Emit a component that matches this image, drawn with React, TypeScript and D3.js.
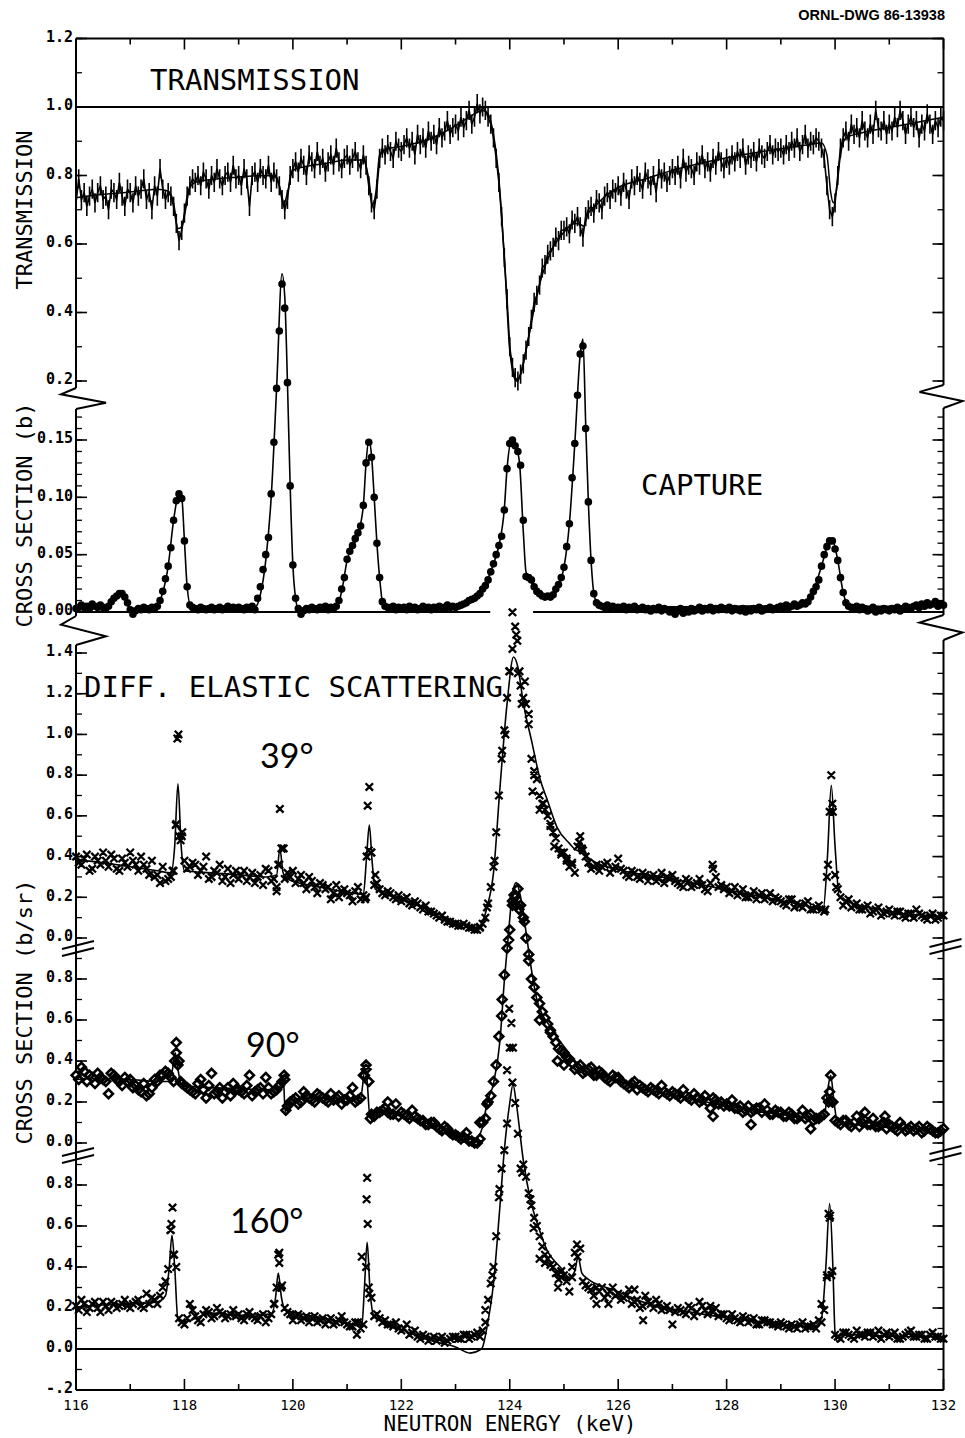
import React from "react";
import * as d3 from "d3";

type Pt = [number, number];

// ---------------------------------------------------------------------------
// Energy axis (keV)
// ---------------------------------------------------------------------------
const E_MIN = 116;
const E_MAX = 132;
const xTickValues = [116, 118, 120, 122, 124, 126, 128, 130, 132];

// ---------------------------------------------------------------------------
// Transmission: measured points every 0.05 keV from 116 keV, plus the fit
// ---------------------------------------------------------------------------
const TRANS_STEP = 0.05;
const TRANS_ERR = 0.028;
const transmission = [
  0.72, 0.79, 0.73, 0.75, 0.71, 0.74, 0.76, 0.72, 0.75, 0.77, 0.73, 0.74, 0.70, 0.76, 0.75, 0.73, 0.78, 0.74, 0.71, 0.76,
  0.75, 0.72, 0.77, 0.74, 0.76, 0.79, 0.73, 0.75, 0.70, 0.77, 0.74, 0.82, 0.76, 0.73, 0.75, 0.74, 0.71, 0.66, 0.61, 0.64,
  0.69, 0.74, 0.77, 0.79, 0.78, 0.80, 0.77, 0.81, 0.79, 0.76, 0.80, 0.78, 0.82, 0.79, 0.77, 0.80, 0.81, 0.78, 0.83, 0.79,
  0.80, 0.77, 0.82, 0.79, 0.71, 0.80, 0.81, 0.78, 0.82, 0.80, 0.79, 0.83, 0.78, 0.81, 0.79, 0.77, 0.73, 0.70, 0.73, 0.80,
  0.82, 0.84, 0.81, 0.85, 0.83, 0.80, 0.86, 0.84, 0.82, 0.87, 0.83, 0.85, 0.81, 0.84, 0.86, 0.83, 0.88, 0.84, 0.82, 0.85,
  0.86, 0.83, 0.85, 0.87, 0.84, 0.82, 0.86, 0.83, 0.77, 0.72, 0.70, 0.76, 0.85, 0.88, 0.86, 0.89, 0.87, 0.85, 0.90, 0.88,
  0.87, 0.89, 0.91, 0.88, 0.90, 0.86, 0.92, 0.89, 0.91, 0.88, 0.93, 0.90, 0.92, 0.89, 0.94, 0.91, 0.93, 0.96, 0.92, 0.94,
  0.95, 0.93, 0.97, 0.94, 0.96, 0.99, 0.95, 0.97, 1.01, 0.98, 1.00, 0.99, 0.97, 0.95, 0.91, 0.85, 0.78, 0.68, 0.56, 0.44,
  0.30, 0.24, 0.21, 0.20, 0.22, 0.25, 0.29, 0.33, 0.38, 0.43, 0.45, 0.48, 0.53, 0.54, 0.57, 0.58, 0.59, 0.62, 0.61, 0.64,
  0.64, 0.65, 0.63, 0.67, 0.66, 0.68, 0.65, 0.62, 0.68, 0.70, 0.71, 0.69, 0.73, 0.72, 0.70, 0.74, 0.75, 0.73, 0.76, 0.75,
  0.77, 0.74, 0.78, 0.76, 0.73, 0.79, 0.77, 0.80, 0.78, 0.76, 0.81, 0.79, 0.77, 0.80, 0.75, 0.82, 0.79, 0.81, 0.78, 0.80,
  0.82, 0.80, 0.83, 0.79, 0.85, 0.81, 0.83, 0.82, 0.80, 0.84, 0.83, 0.86, 0.82, 0.84, 0.81, 0.85, 0.83, 0.87, 0.84, 0.82,
  0.85, 0.83, 0.86, 0.84, 0.87, 0.85, 0.88, 0.83, 0.86, 0.85, 0.87, 0.84, 0.88, 0.86, 0.85, 0.87, 0.89, 0.86, 0.88, 0.87,
  0.88, 0.86, 0.89, 0.87, 0.90, 0.88, 0.91, 0.87, 0.89, 0.92, 0.88, 0.90, 0.89, 0.91, 0.90, 0.88, 0.85, 0.77, 0.70, 0.68,
  0.72, 0.80, 0.88, 0.91, 0.93, 0.90, 0.95, 0.92, 0.94, 0.91, 0.96, 0.93, 0.91, 0.95, 0.92, 0.99, 0.94, 0.93, 0.96, 0.92,
  0.95, 0.93, 0.97, 0.94, 0.99, 0.96, 0.92, 0.95, 0.97, 0.94, 0.96, 0.91, 0.95, 0.93, 0.98, 0.95, 0.92, 0.96, 0.94, 0.97,
  0.96,
];
const transmissionFit: Pt[] = [
  [116.0, 0.735], [116.5, 0.745], [117.0, 0.752], [117.5, 0.76], [117.7, 0.755], [117.8, 0.72],
  [117.88, 0.645], [117.95, 0.65], [118.02, 0.7], [118.1, 0.765], [118.2, 0.78], [118.6, 0.79],
  [119.0, 0.795], [119.5, 0.8], [119.7, 0.795], [119.78, 0.75], [119.84, 0.72], [119.9, 0.75],
  [120.0, 0.815], [120.2, 0.825], [120.6, 0.835], [121.0, 0.845], [121.3, 0.845], [121.4, 0.79],
  [121.47, 0.715], [121.53, 0.75], [121.6, 0.86], [121.7, 0.875], [122.0, 0.885], [122.5, 0.905],
  [123.0, 0.945], [123.3, 0.975], [123.5, 0.99], [123.6, 0.98], [123.7, 0.92], [123.8, 0.79],
  [123.9, 0.56], [124.0, 0.29], [124.05, 0.23], [124.12, 0.2], [124.2, 0.22], [124.3, 0.29],
  [124.4, 0.37], [124.5, 0.45], [124.6, 0.51], [124.8, 0.59], [125.0, 0.635], [125.2, 0.66],
  [125.3, 0.658], [125.36, 0.652], [125.45, 0.69], [125.6, 0.715], [125.8, 0.745], [126.0, 0.765],
  [126.5, 0.79], [127.0, 0.815], [127.5, 0.835], [128.0, 0.852], [128.5, 0.866], [129.0, 0.878],
  [129.5, 0.89], [129.75, 0.895], [129.85, 0.86], [129.92, 0.75], [129.97, 0.72], [130.02, 0.75],
  [130.1, 0.86], [130.2, 0.91], [130.5, 0.925], [131.0, 0.94], [131.5, 0.955], [132.0, 0.97],
];
const transTickValues = [0.2, 0.4, 0.6, 0.8, 1.0, 1.2];
const transTickLabels = ["0.2", "0.4", "0.6", "0.8", "1.0", "1.2"];

// ---------------------------------------------------------------------------
// Capture cross section (b): points every 0.05 keV from 116 keV, plus the fit
// ---------------------------------------------------------------------------
const CAPTURE_STEP = 0.05;
const capture = [
  0.003, 0.004, 0.006, 0.004, 0.005, 0.003, 0.007, 0.005, 0.004, 0.006, 0.004, 0.003, 0.005, 0.009, 0.012, 0.014, 0.016, 0.016, 0.013, 0.008,
  0.002, -0.002, 0.001, 0.003, 0.002, 0.004, 0.003, 0.002, 0.004, 0.003, 0.005, 0.010, 0.018, 0.029, 0.040, 0.056, 0.080, 0.097, 0.103, 0.099,
  0.062, 0.022, 0.006, 0.004, 0.003, 0.002, 0.004, 0.003, 0.002, 0.003, 0.004, 0.002, 0.003, 0.004, 0.002, 0.003, 0.005, 0.003, 0.004, 0.003,
  0.004, 0.003, 0.002, 0.004, 0.003, 0.005, 0.002, 0.012, 0.022, 0.037, 0.050, 0.065, 0.103, 0.148, 0.195, 0.245, 0.286, 0.265, 0.200, 0.110,
  0.041, 0.012, 0.003, -0.002, 0.001, 0.003, 0.002, 0.004, 0.003, 0.002, 0.004, 0.003, 0.005, 0.002, 0.004, 0.003, 0.005, 0.010, 0.020, 0.030,
  0.046, 0.053, 0.058, 0.064, 0.069, 0.075, 0.093, 0.130, 0.148, 0.135, 0.100, 0.060, 0.030, 0.009, 0.005, 0.004, 0.003, 0.005, 0.002, 0.004,
  0.003, 0.004, 0.002, 0.005, 0.003, 0.004, 0.002, 0.003, 0.005, 0.003, 0.004, 0.002, 0.004, 0.003, 0.005, 0.004, 0.003, 0.006, 0.004, 0.005,
  0.004, 0.005, 0.006, 0.007, 0.008, 0.010, 0.011, 0.012, 0.014, 0.016, 0.020, 0.023, 0.028, 0.035, 0.042, 0.050, 0.058, 0.066, 0.089, 0.125,
  0.147, 0.150, 0.145, 0.140, 0.128, 0.080, 0.031, 0.030, 0.028, 0.022, 0.018, 0.016, 0.014, 0.013, 0.014, 0.013, 0.015, 0.020, 0.024, 0.030,
  0.039, 0.057, 0.077, 0.117, 0.147, 0.189, 0.225, 0.232, 0.160, 0.096, 0.045, 0.016, 0.008, 0.006, 0.005, 0.004, 0.006, 0.003, 0.005, 0.004,
  0.004, 0.003, 0.005, 0.002, 0.004, 0.003, 0.005, 0.002, 0.003, 0.004, 0.002, 0.003, 0.001, 0.003, 0.002, 0.004, 0.001, 0.003, 0.002, 0.000,
  0.002, -0.002, 0.001, 0.003, -0.001, 0.002, 0.000, 0.003, 0.001, 0.002, 0.004, 0.001, 0.003, 0.002, 0.004, 0.001, 0.003, 0.002, 0.004, 0.003,
  0.002, 0.004, 0.001, 0.003, 0.002, 0.001, 0.003, 0.000, 0.002, 0.001, 0.003, 0.002, 0.004, 0.001, 0.002, 0.003, 0.004, 0.002, 0.003, 0.004,
  0.005, 0.003, 0.006, 0.004, 0.005, 0.007, 0.005, 0.006, 0.008, 0.007, 0.009, 0.013, 0.018, 0.022, 0.028, 0.040, 0.050, 0.057, 0.062, 0.062,
  0.055, 0.045, 0.030, 0.017, 0.008, 0.005, 0.004, 0.003, 0.005, 0.002, 0.004, 0.003, 0.001, 0.002, 0.004, 0.000, 0.002, 0.001, 0.003, 0.002,
  0.001, 0.003, 0.002, 0.004, 0.001, 0.003, 0.005, 0.004, 0.003, 0.005, 0.006, 0.004, 0.007, 0.005, 0.008, 0.006, 0.007, 0.009, 0.005, 0.007,
  0.006,
];
const captureFit: Pt[] = [
  [116.0, 0.003], [116.6, 0.004], [116.7, 0.011], [116.8, 0.015], [116.9, 0.012], [117.0, 0.003],
  [117.4, 0.003], [117.5, 0.006], [117.6, 0.017], [117.7, 0.04], [117.8, 0.08], [117.9, 0.103],
  [117.95, 0.1], [118.0, 0.062], [118.05, 0.022], [118.12, 0.005], [119.3, 0.004], [119.4, 0.015],
  [119.5, 0.045], [119.6, 0.1], [119.7, 0.195], [119.8, 0.295], [119.85, 0.275], [119.9, 0.2],
  [119.95, 0.11], [120.0, 0.041], [120.05, 0.012], [120.1, 0.003], [120.8, 0.004], [120.9, 0.018],
  [121.0, 0.045], [121.2, 0.068], [121.3, 0.093], [121.35, 0.13], [121.4, 0.15], [121.45, 0.137],
  [121.5, 0.1], [121.55, 0.06], [121.6, 0.03], [121.66, 0.007], [121.75, 0.003], [123.0, 0.004],
  [123.3, 0.011], [123.5, 0.02], [123.7, 0.042], [123.8, 0.058], [123.9, 0.09], [123.95, 0.125],
  [124.05, 0.152], [124.1, 0.147], [124.18, 0.13], [124.25, 0.07], [124.3, 0.035], [124.4, 0.026],
  [124.6, 0.014], [124.75, 0.013], [124.9, 0.022], [125.0, 0.039], [125.1, 0.077], [125.2, 0.147],
  [125.3, 0.225], [125.35, 0.238], [125.4, 0.165], [125.45, 0.096], [125.5, 0.045], [125.57, 0.012],
  [125.7, 0.004], [129.4, 0.006], [129.6, 0.018], [129.75, 0.04], [129.9, 0.062], [129.95, 0.063],
  [130.05, 0.045], [130.15, 0.017], [130.25, 0.005], [132.0, 0.005],
];
const captureTickValues = [0, 0.05, 0.1, 0.15];
const captureTickLabels = ["0.00", "0.05", "0.10", "0.15"];

// ---------------------------------------------------------------------------
// Differential elastic scattering (b/sr). Two interleaved runs per angle:
// run A every 0.1 keV from 116.00 keV, run B every 0.1 keV from 116.05 keV,
// extra points measured across the narrow resonances, and the fits.
// ---------------------------------------------------------------------------
const SCATTER_STEP = 0.1;
const RUN_B_OFFSET = 0.05;

const scatter39 = [
  0.40, 0.36, 0.41, 0.34, 0.38, 0.42, 0.35, 0.39, 0.33, 0.37,
  0.42, 0.36, 0.40, 0.34, 0.38, 0.31, 0.35, 0.29, 0.33, 0.50,
  0.38, 0.35, 0.36, 0.33, 0.40, 0.30, 0.32, 0.28, 0.34, 0.31,
  0.29, 0.33, 0.30, 0.27, 0.31, 0.34, 0.28, 0.25, 0.44, 0.32,
  0.33, 0.29, 0.27, 0.30, 0.25, 0.27, 0.24, 0.19, 0.26, 0.23,
  0.22, 0.18, 0.25, 0.21, 0.43, 0.26, 0.24, 0.21, 0.22, 0.19,
  0.18, 0.20, 0.16, 0.17, 0.14, 0.13, 0.12, 0.10, 0.09, 0.08,
  0.07, 0.06, 0.06, 0.05, 0.04, 0.07, 0.17, 0.35, 0.70, 1.02,
  1.31, 1.53, 1.24, 1.15, 0.88, 0.78, 0.66, 0.60, 0.52, 0.44,
  0.42, 0.35, 0.32, 0.50, 0.40, 0.34, 0.36, 0.35, 0.37, 0.34,
  0.39, 0.33, 0.30, 0.32, 0.29, 0.31, 0.30, 0.28, 0.32, 0.30,
  0.31, 0.27, 0.25, 0.28, 0.26, 0.29, 0.24, 0.27, 0.30, 0.26,
  0.25, 0.23, 0.21, 0.24, 0.20, 0.23, 0.21, 0.19, 0.22, 0.20,
  0.18, 0.16, 0.19, 0.17, 0.15, 0.18, 0.14, 0.16, 0.13, 0.62,
  0.31, 0.20, 0.18, 0.15, 0.17, 0.14, 0.16, 0.13, 0.15, 0.12,
  0.14, 0.11, 0.13, 0.10, 0.12, 0.14, 0.11, 0.09, 0.12, 0.10,
  0.11,
];
const scatter39RunB = [
  0.37, 0.39, 0.33, 0.40, 0.36, 0.38, 0.41, 0.34, 0.39, 0.35,
  0.38, 0.33, 0.36, 0.31, 0.30, 0.27, 0.28, 0.30, 0.56, 0.50,
  0.34, 0.37, 0.31, 0.35, 0.29, 0.33, 0.36, 0.30, 0.27, 0.33,
  0.31, 0.28, 0.32, 0.30, 0.26, 0.33, 0.29, 0.36, 0.29, 0.30,
  0.27, 0.31, 0.24, 0.28, 0.22, 0.26, 0.25, 0.22, 0.20, 0.24,
  0.21, 0.23, 0.19, 0.20, 0.42, 0.27, 0.22, 0.23, 0.20, 0.21,
  0.19, 0.17, 0.18, 0.15, 0.16, 0.13, 0.11, 0.11, 0.08, 0.07,
  0.06, 0.07, 0.05, 0.04, 0.05, 0.10, 0.25, 0.52, 0.88, 1.18,
  1.42, 1.30, 1.18, 1.05, 0.82, 0.70, 0.63, 0.56, 0.49, 0.42,
  0.39, 0.37, 0.45, 0.43, 0.37, 0.35, 0.33, 0.36, 0.32, 0.35,
  0.34, 0.31, 0.33, 0.30, 0.32, 0.28, 0.31, 0.29, 0.27, 0.29,
  0.28, 0.26, 0.29, 0.25, 0.27, 0.26, 0.23, 0.34, 0.25, 0.24,
  0.22, 0.25, 0.22, 0.20, 0.21, 0.19, 0.22, 0.20, 0.18, 0.19,
  0.17, 0.19, 0.15, 0.16, 0.17, 0.14, 0.15, 0.14, 0.30, 0.66,
  0.24, 0.16, 0.19, 0.16, 0.14, 0.15, 0.12, 0.14, 0.11, 0.13,
  0.12, 0.13, 0.11, 0.12, 0.10, 0.12, 0.10, 0.11, 0.09, 0.11,
];
const scatter39Resonances: Pt[] = [
  [117.78, 0.33], [117.84, 0.555], [117.87, 0.98], [117.89, 1.0], [117.93, 0.48], [117.96, 0.52],
  [119.7, 0.23], [119.73, 0.36], [119.76, 0.634], [119.79, 0.44], [119.83, 0.44],
  [121.33, 0.19], [121.36, 0.4], [121.38, 0.65], [121.41, 0.742], [121.44, 0.42], [121.52, 0.31],
  [123.45, 0.055], [123.58, 0.15], [123.72, 0.38], [123.86, 0.92], [123.92, 1.0], [123.99, 1.31],
  [124.05, 1.6], [124.12, 1.49], [124.14, 1.46], [124.18, 1.31], [124.28, 1.26], [124.22, 1.15],
  [124.35, 1.1], [124.45, 0.8], [124.42, 0.72], [124.55, 0.63], [124.62, 0.66], [124.75, 0.55],
  [124.82, 0.45], [124.95, 0.41], [125.05, 0.38], [125.15, 0.36], [125.28, 0.47], [125.33, 0.44],
  [127.74, 0.36], [129.82, 0.14], [129.87, 0.36], [129.93, 0.8], [129.96, 0.62], [130.02, 0.25],
];
const scatter39Fit: Pt[] = [
  [116.0, 0.385], [116.5, 0.37], [117.0, 0.35], [117.5, 0.33], [117.75, 0.32], [117.82, 0.45],
  [117.88, 0.757], [117.94, 0.45], [118.0, 0.33], [118.5, 0.32], [119.0, 0.31], [119.5, 0.3],
  [119.7, 0.31], [119.76, 0.44], [119.82, 0.32], [119.9, 0.29], [120.5, 0.25], [121.0, 0.225],
  [121.3, 0.215], [121.36, 0.4], [121.41, 0.555], [121.46, 0.38], [121.52, 0.24], [122.0, 0.19],
  [122.5, 0.14], [123.0, 0.08], [123.2, 0.06], [123.35, 0.05], [123.45, 0.06], [123.58, 0.15],
  [123.7, 0.32], [123.82, 0.74], [123.95, 1.15], [124.07, 1.38], [124.15, 1.33], [124.25, 1.155],
  [124.41, 0.96], [124.56, 0.78], [124.69, 0.68], [124.87, 0.545], [125.1, 0.465], [125.25, 0.43],
  [125.32, 0.47], [125.4, 0.41], [125.5, 0.385], [126.0, 0.335], [126.8, 0.3], [127.75, 0.25],
  [128.7, 0.2], [129.6, 0.15], [129.78, 0.138], [129.86, 0.4], [129.93, 0.75], [130.0, 0.45],
  [130.08, 0.2], [130.8, 0.14], [132.0, 0.105],
];
const scatter39TickValues = [0, 0.2, 0.4, 0.6, 0.8, 1.0, 1.2, 1.4];
const scatter39TickLabels = ["0.0", "0.2", "0.4", "0.6", "0.8", "1.0", "1.2", "1.4"];

const scatter90 = [
  0.33, 0.37, 0.30, 0.32, 0.34, 0.31, 0.24, 0.33, 0.30, 0.32,
  0.31, 0.28, 0.25, 0.23, 0.27, 0.30, 0.33, 0.34, 0.30, 0.40,
  0.28, 0.26, 0.24, 0.31, 0.22, 0.34, 0.25, 0.22, 0.27, 0.29,
  0.26, 0.24, 0.33, 0.25, 0.27, 0.32, 0.24, 0.26, 0.30, 0.18,
  0.21, 0.19, 0.25, 0.22, 0.20, 0.23, 0.21, 0.24, 0.22, 0.19,
  0.21, 0.27, 0.21, 0.33, 0.30, 0.13, 0.15, 0.17, 0.14, 0.19,
  0.15, 0.13, 0.16, 0.12, 0.11, 0.09, 0.10, 0.07, 0.08, 0.05,
  0.04, 0.02, 0.05, 0.01, 0.00, 0.10, 0.20, 0.30, 0.52, 0.82,
  1.04, 1.20, 1.16, 1.00, 0.80, 0.71, 0.64, 0.58, 0.52, 0.46,
  0.44, 0.41, 0.36, 0.38, 0.35, 0.37, 0.33, 0.34, 0.31, 0.33,
  0.32, 0.29, 0.27, 0.30, 0.28, 0.26, 0.27, 0.25, 0.28, 0.24,
  0.25, 0.23, 0.26, 0.22, 0.24, 0.20, 0.23, 0.17, 0.21, 0.20,
  0.19, 0.21, 0.17, 0.15, 0.18, 0.16, 0.17, 0.19, 0.14, 0.16,
  0.15, 0.13, 0.14, 0.12, 0.16, 0.13, 0.11, 0.12, 0.14, 0.25,
  0.11, 0.09, 0.11, 0.08, 0.13, 0.10, 0.09, 0.12, 0.08, 0.10,
  0.09, 0.07, 0.10, 0.06, 0.08, 0.07, 0.05, 0.08, 0.06, 0.05,
  0.07,
];
const scatter90RunB = [
  0.31, 0.35, 0.33, 0.29, 0.32, 0.30, 0.34, 0.31, 0.28, 0.30,
  0.27, 0.26, 0.29, 0.24, 0.31, 0.33, 0.35, 0.32, 0.44, 0.29,
  0.27, 0.25, 0.29, 0.26, 0.28, 0.24, 0.27, 0.25, 0.23, 0.26,
  0.25, 0.28, 0.23, 0.26, 0.24, 0.27, 0.25, 0.28, 0.31, 0.20,
  0.22, 0.20, 0.23, 0.21, 0.24, 0.22, 0.20, 0.21, 0.23, 0.21,
  0.23, 0.20, 0.22, 0.36, 0.14, 0.15, 0.16, 0.15, 0.14, 0.13,
  0.14, 0.12, 0.13, 0.11, 0.09, 0.10, 0.08, 0.06, 0.07, 0.04,
  0.03, 0.03, 0.01, 0.00, 0.02, 0.12, 0.23, 0.38, 0.62, 0.95,
  1.16, 1.24, 1.10, 0.92, 0.76, 0.68, 0.61, 0.55, 0.49, 0.45,
  0.42, 0.39, 0.37, 0.34, 0.36, 0.33, 0.35, 0.32, 0.30, 0.32,
  0.30, 0.28, 0.29, 0.26, 0.27, 0.25, 0.26, 0.24, 0.25, 0.23,
  0.24, 0.22, 0.23, 0.21, 0.22, 0.21, 0.20, 0.22, 0.19, 0.18,
  0.18, 0.17, 0.18, 0.16, 0.15, 0.17, 0.15, 0.16, 0.14, 0.15,
  0.13, 0.15, 0.12, 0.13, 0.12, 0.14, 0.12, 0.13, 0.22, 0.20,
  0.10, 0.11, 0.09, 0.10, 0.08, 0.11, 0.09, 0.08, 0.09, 0.07,
  0.08, 0.06, 0.08, 0.07, 0.06, 0.08, 0.06, 0.07, 0.05, 0.06,
];
const scatter90Resonances: Pt[] = [
  [117.82, 0.4], [117.85, 0.49], [117.88, 0.38], [117.93, 0.3],
  [119.84, 0.33], [119.87, 0.16],
  [121.32, 0.33], [121.35, 0.38], [121.43, 0.12], [121.75, 0.2],
  [123.45, 0.1], [123.58, 0.19], [123.86, 0.7], [123.98, 0.99], [124.05, 1.18], [124.08, 1.21],
  [124.12, 1.16], [124.17, 1.14], [124.27, 1.08], [124.35, 0.89], [124.55, 0.6], [124.75, 0.54],
  [124.88, 0.4], [125.0, 0.38], [127.75, 0.13], [128.45, 0.09], [129.55, 0.07],
  [129.88, 0.2], [129.92, 0.33], [129.96, 0.2], [130.55, 0.15], [130.92, 0.13],
];
const scatter90Fit: Pt[] = [
  [116.0, 0.31], [116.5, 0.315], [117.0, 0.31], [117.5, 0.3], [117.7, 0.3], [117.78, 0.36],
  [117.83, 0.44], [117.88, 0.36], [117.95, 0.28], [118.5, 0.27], [119.0, 0.265], [119.5, 0.26],
  [119.75, 0.27], [119.82, 0.33], [119.86, 0.15], [119.9, 0.21], [120.5, 0.22], [121.0, 0.215],
  [121.25, 0.22], [121.33, 0.36], [121.37, 0.3], [121.42, 0.13], [121.6, 0.15], [122.0, 0.13],
  [122.5, 0.08], [123.0, 0.025], [123.3, -0.005], [123.4, 0.02], [123.5, 0.08], [123.58, 0.195],
  [123.7, 0.29], [123.82, 0.5], [123.9, 0.79], [123.97, 1.0], [124.05, 1.22], [124.12, 1.27],
  [124.2, 1.2], [124.3, 1.03], [124.38, 0.88], [124.5, 0.7], [124.75, 0.565], [125.06, 0.45],
  [125.3, 0.36], [125.6, 0.33], [125.9, 0.31], [126.5, 0.26], [127.45, 0.21], [128.4, 0.16],
  [129.6, 0.127], [129.8, 0.13], [129.86, 0.25], [129.92, 0.33], [129.98, 0.2], [130.04, 0.11],
  [130.2, 0.097], [130.8, 0.08], [132.0, 0.065],
];
const scatter90TickValues = [0, 0.2, 0.4, 0.6, 0.8];
const scatter90TickLabels = ["0.0", "0.2", "0.4", "0.6", "0.8"];

const scatter160 = [
  0.21, 0.24, 0.18, 0.22, 0.20, 0.23, 0.19, 0.22, 0.21, 0.24,
  0.20, 0.23, 0.21, 0.27, 0.25, 0.22, 0.30, 0.39, 0.46, 0.15,
  0.12, 0.22, 0.16, 0.13, 0.19, 0.15, 0.20, 0.17, 0.16, 0.19,
  0.17, 0.14, 0.18, 0.15, 0.16, 0.13, 0.17, 0.30, 0.31, 0.18,
  0.14, 0.17, 0.15, 0.13, 0.16, 0.14, 0.12, 0.15, 0.13, 0.16,
  0.12, 0.11, 0.13, 0.12, 0.30, 0.16, 0.15, 0.14, 0.12, 0.13,
  0.09, 0.12, 0.08, 0.06, 0.07, 0.04, 0.06, 0.05, 0.03, 0.05,
  0.06, 0.05, 0.07, 0.06, 0.08, 0.09, 0.24, 0.40, 0.74, 0.97,
  1.47, 1.20, 0.88, 0.84, 0.70, 0.60, 0.50, 0.44, 0.40, 0.34,
  0.36, 0.28, 0.47, 0.49, 0.31, 0.29, 0.22, 0.30, 0.27, 0.30,
  0.27, 0.25, 0.29, 0.23, 0.20, 0.26, 0.22, 0.24, 0.19, 0.21,
  0.12, 0.20, 0.18, 0.21, 0.16, 0.23, 0.19, 0.21, 0.20, 0.17,
  0.15, 0.17, 0.14, 0.16, 0.13, 0.15, 0.12, 0.14, 0.13, 0.12,
  0.13, 0.11, 0.12, 0.10, 0.13, 0.11, 0.12, 0.14, 0.19, 0.64,
  0.07, 0.05, 0.08, 0.06, 0.09, 0.07, 0.08, 0.06, 0.09, 0.07,
  0.06, 0.08, 0.05, 0.07, 0.09, 0.06, 0.07, 0.05, 0.08, 0.06,
  0.05,
];
const scatter160RunB = [
  0.19, 0.22, 0.20, 0.23, 0.18, 0.21, 0.23, 0.20, 0.22, 0.21,
  0.22, 0.24, 0.20, 0.22, 0.24, 0.26, 0.33, 0.58, 0.40, 0.13,
  0.15, 0.19, 0.14, 0.17, 0.18, 0.16, 0.18, 0.15, 0.17, 0.16,
  0.15, 0.17, 0.16, 0.14, 0.17, 0.15, 0.22, 0.42, 0.20, 0.17,
  0.16, 0.14, 0.16, 0.15, 0.13, 0.15, 0.14, 0.12, 0.14, 0.13,
  0.11, 0.13, 0.10, 0.40, 0.25, 0.17, 0.13, 0.12, 0.11, 0.10,
  0.10, 0.07, 0.09, 0.05, 0.06, 0.05, 0.04, 0.06, 0.04, 0.06,
  0.05, 0.07, 0.05, 0.07, 0.06, 0.13, 0.32, 0.55, 0.88, 1.10,
  1.30, 1.05, 0.90, 0.76, 0.64, 0.55, 0.46, 0.41, 0.37, 0.35,
  0.33, 0.40, 0.45, 0.33, 0.30, 0.26, 0.28, 0.25, 0.28, 0.26,
  0.24, 0.26, 0.22, 0.24, 0.21, 0.23, 0.20, 0.22, 0.20, 0.19,
  0.18, 0.19, 0.17, 0.20, 0.18, 0.21, 0.17, 0.18, 0.16, 0.17,
  0.14, 0.15, 0.13, 0.15, 0.14, 0.12, 0.14, 0.13, 0.12, 0.11,
  0.12, 0.10, 0.11, 0.12, 0.10, 0.11, 0.10, 0.13, 0.36, 0.38,
  0.06, 0.08, 0.07, 0.05, 0.07, 0.06, 0.08, 0.07, 0.05, 0.08,
  0.07, 0.05, 0.06, 0.08, 0.06, 0.07, 0.05, 0.07, 0.06, 0.05,
];
const scatter160Resonances: Pt[] = [
  [117.55, 0.26], [117.65, 0.33], [117.74, 0.58], [117.76, 0.61], [117.78, 0.69], [117.81, 0.46],
  [119.66, 0.22], [119.7, 0.3], [119.73, 0.46], [119.75, 0.47], [119.78, 0.3],
  [121.18, 0.07], [121.27, 0.45], [121.36, 0.73], [121.37, 0.835], [121.38, 0.61], [121.41, 0.27],
  [123.55, 0.19], [123.68, 0.36], [123.81, 0.78], [123.95, 1.36], [123.99, 1.66], [124.03, 1.59],
  [124.06, 1.47], [124.23, 0.86], [124.38, 0.73], [124.44, 0.59], [124.55, 0.44], [124.65, 0.42],
  [124.89, 0.3], [124.95, 0.38], [125.15, 0.35], [125.24, 0.51], [125.6, 0.3], [125.82, 0.22],
  [126.3, 0.29], [126.46, 0.14], [129.75, 0.22], [129.8, 0.19], [129.85, 0.35], [129.88, 0.66],
  [129.91, 0.65], [129.93, 0.36],
];
const scatter160Fit: Pt[] = [
  [116.0, 0.205], [116.5, 0.215], [117.0, 0.22], [117.5, 0.23], [117.65, 0.26], [117.72, 0.4],
  [117.77, 0.555], [117.82, 0.4], [117.88, 0.14], [117.95, 0.13], [118.5, 0.175], [119.0, 0.165],
  [119.6, 0.17], [119.68, 0.25], [119.73, 0.37], [119.79, 0.25], [119.86, 0.19], [120.5, 0.155],
  [121.0, 0.125], [121.27, 0.11], [121.32, 0.3], [121.37, 0.52], [121.42, 0.3], [121.48, 0.17],
  [121.6, 0.14], [122.0, 0.095], [122.5, 0.045], [123.0, 0.01], [123.27, -0.02], [123.45, -0.005],
  [123.5, 0.01], [123.58, 0.107], [123.7, 0.32], [123.82, 0.7], [123.9, 0.97], [124.0, 1.2],
  [124.06, 1.29], [124.12, 1.2], [124.25, 0.92], [124.38, 0.73], [124.53, 0.595], [124.69, 0.48],
  [124.93, 0.4], [125.1, 0.35], [125.2, 0.38], [125.26, 0.45], [125.33, 0.37], [125.45, 0.34],
  [125.9, 0.29], [126.5, 0.225], [127.45, 0.175], [128.4, 0.14], [129.6, 0.108], [129.75, 0.15],
  [129.83, 0.4], [129.9, 0.71], [129.96, 0.4], [130.0, 0.08], [130.05, 0.035], [130.2, 0.07],
  [131.45, 0.06], [132.0, 0.06],
];
const scatter160TickValues = [-0.2, 0, 0.2, 0.4, 0.6, 0.8];
const scatter160TickLabels = ["-.2", "0.0", "0.2", "0.4", "0.6", "0.8"];

// ---------------------------------------------------------------------------
// Drawing
// ---------------------------------------------------------------------------
const W = 965;
const H = 1438;
const LEFT = 76;
const RIGHT = 943.5;
const TOP = 38.5;
const BOTTOM = 1390;
const PLOT_FONT = "'DejaVu Sans Mono', monospace";

const onGrid = (vals: number[], step: number, start = E_MIN): Pt[] =>
  vals.map((v, i) => [start + i * step, v] as Pt);

type Scale = d3.ScaleLinear<number, number>;

function crossPath(pts: Pt[], x: Scale, y: Scale, s: number) {
  return pts
    .map(([e, v]) => {
      const cx = x(e);
      const cy = y(v);
      return `M${cx - s},${cy - s}L${cx + s},${cy + s}M${cx - s},${cy + s}L${cx + s},${cy - s}`;
    })
    .join("");
}

function diamondPath(pts: Pt[], x: Scale, y: Scale, s: number) {
  return pts
    .map(([e, v]) => {
      const cx = x(e);
      const cy = y(v);
      return `M${cx},${cy - s}L${cx + s},${cy}L${cx},${cy + s}L${cx - s},${cy}Z`;
    })
    .join("");
}

function dotPath(pts: Pt[], x: Scale, y: Scale, r: number) {
  return pts
    .map(([e, v]) => {
      const cx = x(e);
      const cy = y(v);
      return `M${cx + r},${cy}A${r},${r} 0 1 0 ${cx - r},${cy}A${r},${r} 0 1 0 ${cx + r},${cy}Z`;
    })
    .join("");
}

// Ticks on both vertical axes for one panel: long ticks at labelled values,
// short ticks at every minor step between lo and hi.
function PanelTicks(props: {
  y: Scale;
  lo: number;
  hi: number;
  minor: number;
  values: number[];
  labels: string[];
}) {
  const { y, lo, hi, minor, values, labels } = props;
  const minors = d3.range(Math.round((hi - lo) / minor) + 1).map((i) => lo + i * minor);
  return (
    <g>
      {minors.map((v, i) => (
        <g key={`m${i}`}>
          <line x1={LEFT} x2={LEFT + 6} y1={y(v)} y2={y(v)} stroke="#000" strokeWidth={1.3} />
          <line x1={RIGHT} x2={RIGHT - 6} y1={y(v)} y2={y(v)} stroke="#000" strokeWidth={1.3} />
        </g>
      ))}
      {values.map((v, i) => (
        <g key={`M${i}`}>
          <line x1={LEFT} x2={LEFT + 11} y1={y(v)} y2={y(v)} stroke="#000" strokeWidth={1.6} />
          <line x1={RIGHT} x2={RIGHT - 11} y1={y(v)} y2={y(v)} stroke="#000" strokeWidth={1.6} />
          <text
            x={LEFT - 3}
            y={y(v) - 2}
            dy="0.35em"
            textAnchor="end"
            fontFamily={PLOT_FONT}
            fontWeight="bold"
            fontSize={15}
          >
            {labels[i]}
          </text>
        </g>
      ))}
    </g>
  );
}

export default function App() {
  const x = d3.scaleLinear().domain([E_MIN, E_MAX]).range([LEFT, RIGHT]);
  const yT = d3.scaleLinear().domain([0.2, 1.2]).range([381, TOP]);
  const yC = d3.scaleLinear().domain([0, 0.15]).range([612, 440]);
  const y39 = d3.scaleLinear().domain([0, 1.4]).range([938, 653]);
  const y90 = d3.scaleLinear().domain([0, 0.8]).range([1143, 979]);
  const y160 = d3.scaleLinear().domain([-0.2, 0.8]).range([BOTTOM, 1185]);

  const fit = (y: Scale) =>
    d3
      .line<Pt>()
      .x((d) => x(d[0]))
      .y((d) => y(d[1]))
      .curve(d3.curveMonotoneX);

  const transPts = onGrid(transmission, TRANS_STEP);
  const transLine = d3
    .line<Pt>()
    .x((d) => x(d[0]))
    .y((d) => yT(d[1]))(transPts);
  const transBars = transPts
    .map(([e, v]) => `M${x(e)},${yT(v + TRANS_ERR)}V${yT(v - TRANS_ERR)}`)
    .join("");

  const capPts = onGrid(capture, CAPTURE_STEP);
  const runB = E_MIN + RUN_B_OFFSET;
  const s39 = onGrid(scatter39, SCATTER_STEP)
    .concat(onGrid(scatter39RunB, SCATTER_STEP, runB))
    .concat(scatter39Resonances);
  const s90 = onGrid(scatter90, SCATTER_STEP)
    .concat(onGrid(scatter90RunB, SCATTER_STEP, runB))
    .concat(scatter90Resonances);
  const s160 = onGrid(scatter160, SCATTER_STEP)
    .concat(onGrid(scatter160RunB, SCATTER_STEP, runB))
    .concat(scatter160Resonances);

  // axis-break positions
  const brk1 = yT(0.2) + 7; // transmission / capture
  const brk2 = yC(0) + 4; // capture / scattering
  const brk3 = y39(0) + 10; // 39 deg / 90 deg
  const brk4 = y90(0) + 12; // 90 deg / 160 deg

  const zig = (ax: number, y0: number, a: number, b: number, h: number) =>
    `M${ax},${y0}L${ax - a},${y0 + h * 0.3}L${ax + b},${y0 + h * 0.7}L${ax},${y0 + h}`;
  const slashes = (ax: number, yc: number) =>
    `M${ax - 14},${yc + 1}L${ax + 18},${yc - 7}M${ax - 14},${yc + 8}L${ax + 18},${yc}`;

  const xMinor = d3.range(E_MIN, E_MAX + 1, 1);

  return (
    <svg
      width={W}
      height={H}
      viewBox={`0 0 ${W} ${H}`}
      style={{ position: "absolute", left: 0, top: 0, background: "#fff" }}
    >
      <rect x={0} y={0} width={W} height={H} fill="#fff" />

      {/* drawing number */}
      <text
        x={945}
        y={20}
        textAnchor="end"
        fontFamily="'Liberation Sans', Arial, sans-serif"
        fontWeight="bold"
        fontSize={14.5}
      >
        ORNL-DWG 86-13938
      </text>

      {/* frame: top and bottom energy axes */}
      <line x1={LEFT} x2={RIGHT} y1={TOP} y2={TOP} stroke="#000" strokeWidth={2} />
      <line x1={LEFT} x2={RIGHT} y1={BOTTOM} y2={BOTTOM} stroke="#000" strokeWidth={2} />
      {xMinor.map((e) => {
        const major = (e - E_MIN) % 2 === 0;
        const len = major ? 11 : 6;
        return (
          <g key={`xt${e}`}>
            <line x1={x(e)} x2={x(e)} y1={TOP} y2={TOP + len} stroke="#000" strokeWidth={1.6} />
            <line x1={x(e)} x2={x(e)} y1={BOTTOM} y2={BOTTOM - len} stroke="#000" strokeWidth={1.6} />
          </g>
        );
      })}
      {xTickValues.map((e) => (
        <text
          key={`xl${e}`}
          x={x(e)}
          y={BOTTOM + 20}
          textAnchor="middle"
          fontFamily={PLOT_FONT}
          fontSize={14}
        >
          {e}
        </text>
      ))}
      <text x={510} y={1431} textAnchor="middle" fontFamily={PLOT_FONT} fontSize={21}>
        NEUTRON ENERGY (keV)
      </text>

      {/* vertical axes with breaks */}
      <g fill="none" stroke="#000" strokeWidth={2}>
        <path d={`M${LEFT},${TOP}V${brk1}`} />
        <path d={`M${RIGHT},${TOP}V${brk1 - 3}`} />
        <path d={zig(LEFT, brk1, 15, 30, 21)} />
        <path d={zig(RIGHT, brk1 - 3, 24, 19, 23)} />
        <path d={`M${LEFT},${brk1 + 21}V${brk2}`} />
        <path d={`M${RIGHT},${brk1 + 20}V${brk2 - 1}`} />
        <path d={zig(LEFT, brk2, 15, 30, 29)} />
        <path d={zig(RIGHT, brk2 - 1, 24, 19, 25)} />
        <path d={`M${LEFT},${brk2 + 29}V${BOTTOM}`} />
        <path d={`M${RIGHT},${brk2 + 24}V${BOTTOM}`} />
        <path d={slashes(LEFT, brk3)} />
        <path d={slashes(RIGHT, brk3 - 2)} />
        <path d={slashes(LEFT, brk4)} />
        <path d={slashes(RIGHT, brk4 - 2)} />
      </g>

      {/* axis ticks and labels */}
      <PanelTicks y={yT} lo={0.2} hi={1.2} minor={0.1} values={transTickValues} labels={transTickLabels} />
      <PanelTicks y={yC} lo={0} hi={0.17} minor={0.01} values={captureTickValues} labels={captureTickLabels} />
      <PanelTicks y={y39} lo={0} hi={1.4} minor={0.1} values={scatter39TickValues} labels={scatter39TickLabels} />
      <PanelTicks y={y90} lo={0} hi={0.9} minor={0.1} values={scatter90TickValues} labels={scatter90TickLabels} />
      <PanelTicks y={y160} lo={-0.2} hi={0.9} minor={0.1} values={scatter160TickValues} labels={scatter160TickLabels} />

      {/* axis titles */}
      <g fontFamily={PLOT_FONT} fontSize={22} textAnchor="middle">
        <text transform={`translate(32,210) rotate(-90)`}>TRANSMISSION</text>
        <text transform={`translate(32,515) rotate(-90)`}>CROSS SECTION (b)</text>
        <text transform={`translate(32,1012) rotate(-90)`}>CROSS SECTION (b/sr)</text>
      </g>

      {/* panel captions */}
      <g fontFamily={PLOT_FONT} fontSize={29}>
        <text x={150} y={90}>TRANSMISSION</text>
        <text x={641} y={495}>CAPTURE</text>
        <text x={84} y={697}>DIFF. ELASTIC SCATTERING</text>
      </g>
      <g fontFamily="Lato, 'Open Sans', sans-serif" fontSize={34}>
        <text x={260} y={768}>39°</text>
        <text x={246} y={1057}>90°</text>
        <text x={230} y={1233}>160°</text>
      </g>

      {/* reference lines */}
      <line x1={LEFT} x2={RIGHT} y1={yT(1)} y2={yT(1)} stroke="#000" strokeWidth={2.2} />
      <line x1={LEFT} x2={x(123.64)} y1={yC(0)} y2={yC(0)} stroke="#000" strokeWidth={1.8} />
      <line x1={x(124.43)} x2={RIGHT} y1={yC(0)} y2={yC(0)} stroke="#000" strokeWidth={1.8} />
      <line x1={LEFT} x2={RIGHT} y1={y160(0)} y2={y160(0)} stroke="#000" strokeWidth={1.8} />

      {/* transmission */}
      <path d={transBars} stroke="#000" strokeWidth={1.6} fill="none" />
      <path d={transLine ?? ""} stroke="#000" strokeWidth={1.6} fill="none" />
      <path d={fit(yT)(transmissionFit) ?? ""} stroke="#000" strokeWidth={1.5} fill="none" />

      {/* capture */}
      <path d={fit(yC)(captureFit) ?? ""} stroke="#000" strokeWidth={1.6} fill="none" />
      <path d={dotPath(capPts, x, yC, 3.8)} fill="#000" stroke="none" />

      {/* scattering: 39 deg */}
      <path d={crossPath(s39, x, y39, 3.7)} stroke="#000" strokeWidth={2.3} fill="none" />
      <path d={fit(y39)(scatter39Fit) ?? ""} stroke="#000" strokeWidth={1.6} fill="none" />

      {/* scattering: 90 deg */}
      <path d={diamondPath(s90, x, y90, 4.4)} stroke="#000" strokeWidth={2.6} fill="#fff" />
      <path d={fit(y90)(scatter90Fit) ?? ""} stroke="#000" strokeWidth={1.6} fill="none" />

      {/* scattering: 160 deg */}
      <path d={crossPath(s160, x, y160, 3.7)} stroke="#000" strokeWidth={2.3} fill="none" />
      <path d={fit(y160)(scatter160Fit) ?? ""} stroke="#000" strokeWidth={1.6} fill="none" />
    </svg>
  );
}
